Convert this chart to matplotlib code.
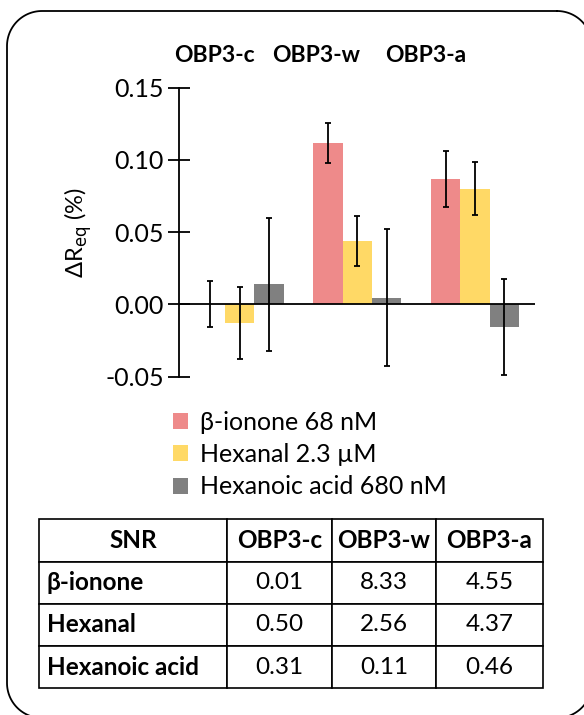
import numpy as np
import matplotlib.pyplot as plt

plt.rcParams['font.family'] = ['Lato', 'DejaVu Sans']

categories = ['OBP3-c', 'OBP3-w', 'OBP3-a']
series_names = ['β-ionone 68 nM', 'Hexanal 2.3 µM', 'Hexanoic acid 680 nM']
ionone = [0.0002, 0.112, 0.087]
ionone_err = [0.0158, 0.0138, 0.0194]
hexanal = [-0.0127, 0.044, 0.080]
hexanal_err = [0.025, 0.0173, 0.0183]
hexanoic = [0.0139, 0.0048, -0.0157]
hexanoic_err = [0.0459, 0.0476, 0.0334]
colors = ['#ee8a8a', '#ffd966', '#808080']

snr_cols = ['SNR', 'OBP3-c', 'OBP3-w', 'OBP3-a']
snr_rows = ['β-ionone', 'Hexanal', 'Hexanoic acid']
snr_vals = [['0.01', '8.33', '4.55'],
            ['0.50', '2.56', '4.37'],
            ['0.31', '0.11', '0.46']]

W, H = 584, 715
fig = plt.figure(figsize=(W / 100, H / 100), dpi=100)

# rounded frame (pixel coords from top-left), right and bottom sides run off the picture
def frame_outline(x0, y0, x1, y1, r):
    pts = []
    corners = [(x1 - r, y0 + r, 90, 0), (x1 - r, y1 - r, 0, -90),
               (x0 + r, y1 - r, -90, -180), (x0 + r, y0 + r, 180, 90)]
    for cx, cy, a0, a1 in corners:
        t = np.radians(np.linspace(a0, a1, 30))
        pts += list(zip(cx + r * np.cos(t), cy - r * np.sin(t)))
    pts.append(pts[0])
    px, py = np.array(pts).T
    return px / W, 1 - py / H

fx, fy = frame_outline(7, 11, 592, 718, 35)
fig.add_artist(plt.Line2D(fx, fy, color='black', linewidth=1.3, transform=fig.transFigure))

ax = fig.add_axes([179.3 / W, (H - 376.7) / H, (535 - 179.3) / W, 289 / H])
x = np.arange(len(categories))
bw = 0.25
data = [(ionone, ionone_err), (hexanal, hexanal_err), (hexanoic, hexanoic_err)]
for i, (vals, errs) in enumerate(data):
    ax.bar(x + (i - 1) * bw, vals, bw, color=colors[i], label=series_names[i],
           yerr=errs, capsize=2.5, error_kw=dict(elinewidth=1.3, capthick=1.3, ecolor='black'))

ax.axhline(0, color='black', linewidth=1.3)
ax.set_xlim(-0.514, 2.51)
ax.set_ylim(-0.05, 0.15)
ax.set_yticks([-0.05, 0.0, 0.05, 0.10, 0.15])
ax.set_yticklabels(['-0.05', '0.00', '0.05', '0.10', '0.15'])
ax.tick_params(axis='y', direction='inout', length=16, width=1.3, labelsize=18, pad=3)
ax.set_xticks([])
for s in ['top', 'right', 'bottom']:
    ax.spines[s].set_visible(False)
ax.spines['left'].set_linewidth(1.3)
ax.set_ylabel('ΔR$_{\\mathrm{eq}}$ (%)', fontsize=17, labelpad=8)

# group labels on top
for name, px in zip(categories, [214, 316, 426]):
    fig.text(px / W, 1 - 55 / H, name, ha='center', va='center',
             fontsize=16.5, fontweight='bold')

handles, labels = ax.get_legend_handles_labels()
leg = fig.legend([h.patches[0] for h in handles], labels, loc='upper left',
                 bbox_to_anchor=(150 / W, 1 - 388 / H), frameon=False,
                 fontsize=18, handlelength=0.6, handleheight=0.6,
                 handletextpad=0.5, labelspacing=0.38)

# SNR table
tax = fig.add_axes([39.3 / W, (H - 688.3) / H, (542.7 - 39.3) / W, (688.3 - 519.3) / H])
tax.axis('off')
cell_text = [[r] + v for r, v in zip(snr_rows, snr_vals)]
widths = np.array([187.4, 105, 104.3, 106.7])
tbl = tax.table(cellText=cell_text, colLabels=snr_cols, bbox=[0, 0, 1, 1],
                colWidths=list(widths / widths.sum()), cellLoc='center')
tbl.auto_set_font_size(False)
for (r, c), cell in tbl.get_celld().items():
    cell.set_linewidth(1.2)
    cell.get_text().set_fontsize(17.5)
    if r == 0 or c == 0:
        cell.get_text().set_fontweight('bold')
    if c == 0 and r > 0:
        cell.get_text().set_ha('left')
        cell.PAD = 0.04

fig.savefig('out.png', dpi=100)
